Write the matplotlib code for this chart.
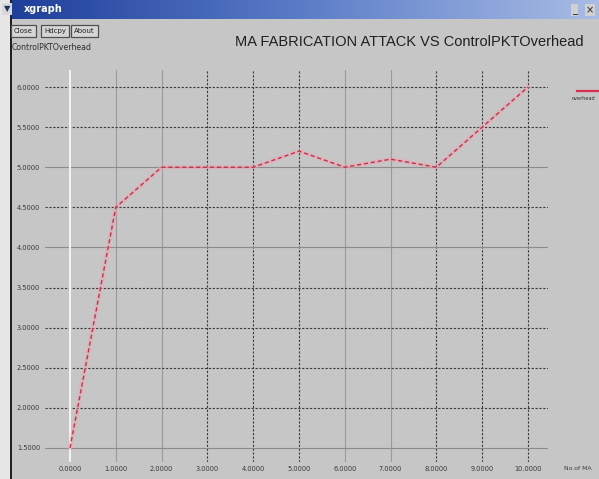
import matplotlib
matplotlib.use("Agg")
import matplotlib.pyplot as plt
from matplotlib.patches import Rectangle
from matplotlib.lines import Line2D
import numpy as np

# ----------------------------
# Data
# ----------------------------
num_ma = [0, 1, 2, 3, 4, 5, 6, 7, 8, 9, 10]
overhead = [1.5, 4.5, 5.0, 5.0, 5.0, 5.2, 5.0, 5.1, 5.0, 5.5, 6.0]

x_ticks = [0, 1, 2, 3, 4, 5, 6, 7, 8, 9, 10]
y_ticks = [1.5, 2.0, 2.5, 3.0, 3.5, 4.0, 4.5, 5.0, 5.5, 6.0]

title = "MA FABRICATION ATTACK VS ControlPKTOverhead"
y_name = "ControlPKTOverhead"
x_name = "No.of MA"
series_name = "overhead"

# ----------------------------
# Figure / window chrome
# ----------------------------
W, H = 599, 479
bg = "#c6c6c6"
fig = plt.figure(figsize=(W / 100, H / 100), dpi=100)
fig.patch.set_facecolor(bg)

def px(x, y):
    return x / W, 1 - y / H

# left strip + dark window border
fig.patches.append(Rectangle((0, 0), 10 / W, 1, transform=fig.transFigure,
                             facecolor="#e6e6e6", edgecolor="none", zorder=0))
fig.patches.append(Rectangle((10 / W, 0), 2 / W, 1, transform=fig.transFigure,
                             facecolor="#202020", edgecolor="none", zorder=1))

# blue title bar (gradient)
grad = np.linspace(0, 1, 256).reshape(1, -1)
tb = fig.add_axes([0, 1 - 19 / H, 1, 19 / H])
tb.imshow(grad, aspect="auto", cmap=matplotlib.colors.LinearSegmentedColormap.from_list(
    "tb", ["#1c3c98", "#5a7cc8", "#a8bce4"]), extent=[0, 1, 0, 1])
tb.axis("off")

fig.text(*px(4, 9), "\u25bc", color="#203060", fontsize=6, va="center", zorder=10,
         bbox=dict(facecolor="#d8d8d8", edgecolor="none", pad=1.2))
fig.text(*px(24, 9), "xgraph", color="white", fontsize=7, fontweight="bold",
         va="center", zorder=10)
fig.text(*px(572, 10), "_", color="#222222", fontsize=7, va="center", zorder=10,
         bbox=dict(facecolor="#d0d0d0", edgecolor="none", pad=0.8))
fig.text(*px(586, 10), "\u00d7", color="#222222", fontsize=7, va="center", zorder=10,
         bbox=dict(facecolor="#d0d0d0", edgecolor="none", pad=0.8))

# buttons
for label, bx in [("Close", 14), ("Hdcpy", 44), ("About", 74)]:
    fig.text(*px(bx, 31), label, fontsize=5.0, color="#202020", va="center",
             bbox=dict(facecolor="#d6d6d6", edgecolor="#505050", linewidth=0.9,
                       boxstyle="square,pad=0.45"))

fig.text(*px(12, 47), y_name, fontsize=5.6, color="#303030", va="center")
fig.text(*px(235, 42), title, fontsize=10.5, family="Liberation Sans",
         color="#202020", va="center")

# ----------------------------
# Plot area
# ----------------------------
left, right, top, bottom = 45, 548, 70, 462
ax = fig.add_axes([left / W, 1 - bottom / H, (right - left) / W, (bottom - top) / H])
ax.set_facecolor(bg)
for s in ax.spines.values():
    s.set_visible(False)

ax.set_xlim(-25 / 45.8, 10 + 20 / 45.8)
ax.set_ylim(1.5 - 14 / 80.2, 6.0 + 17 / 80.2)

# xgraph-style grid: dark dotted, some lines washed out in the capture
faint_x = [1, 2, 6, 7]
for xv in x_ticks[1:]:
    if xv in faint_x:
        ax.axvline(xv, color="#9a9a9a", lw=0.8, zorder=1)
    else:
        ax.axvline(xv, color="#3a3a3a", lw=0.8, ls=(0, (2, 1.5)), zorder=1)
for yv in y_ticks:
    if yv in (1.5, 5.0, 4.0):
        ax.axhline(yv, color="#8c8c8c", lw=0.8, zorder=1)
    else:
        ax.axhline(yv, color="#3a3a3a", lw=0.8, ls=(0, (2, 1.5)), zorder=1)
ax.axvline(0, color="#f4f4f4", lw=1.4, zorder=1)

# series: pink halo + red dashed line
ax.plot(num_ma, overhead, color="#f0a0b0", lw=3.0, alpha=0.45, zorder=2)
ax.plot(num_ma, overhead, color="#c83048", lw=1.0, ls=(0, (3, 2)), zorder=3)

ax.set_xticks(x_ticks)
ax.set_xticklabels([f"{v:.4f}" for v in x_ticks])
ax.set_yticks(y_ticks)
ax.set_yticklabels([f"{v:.4f}" for v in y_ticks])
ax.tick_params(length=0, labelsize=4.8, labelcolor="#383838")
ax.tick_params(axis="x", pad=3)
ax.tick_params(axis="y", pad=3.5)

fig.text(*px(564, 468), x_name, fontsize=4.4, color="#404040", va="center")

# legend, xgraph style: line on top, name below it
fig.lines.append(Line2D([577 / W, 598 / W], [1 - 91 / H, 1 - 91 / H],
                        transform=fig.transFigure, color="#d83050", lw=1.6))
fig.text(*px(572, 98), series_name, fontsize=3.6, color="#303030", va="center")

fig.savefig("out.png", dpi=100, facecolor=fig.get_facecolor())
